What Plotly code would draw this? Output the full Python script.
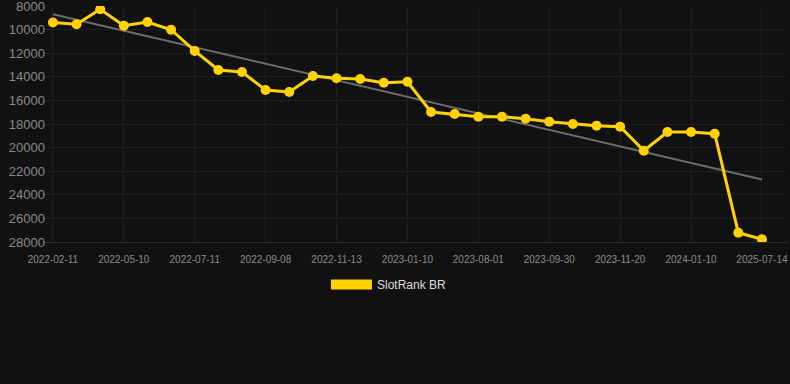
import numpy as np
import plotly.graph_objects as go

dates = [
    "2022-02-11", "2022-03-11", "2022-04-10", "2022-05-10", "2022-06-01", "2022-06-20",
    "2022-07-11", "2022-08-01", "2022-08-20", "2022-09-08", "2022-10-05", "2022-10-20",
    "2022-11-13", "2022-12-05", "2022-12-20", "2023-01-10", "2023-04-10", "2023-06-10",
    "2023-08-01", "2023-08-20", "2023-09-10", "2023-09-30", "2023-10-15", "2023-11-01",
    "2023-11-20", "2023-12-05", "2023-12-20", "2024-01-10", "2024-02-10", "2025-05-10",
    "2025-07-14",
]
ranks = [
    9400, 9550, 8280, 9670, 9360, 10010, 11810, 13420, 13590, 15120, 15290, 13930,
    14130, 14190, 14500, 14420, 16980, 17150, 17380, 17380, 17550, 17800, 18000, 18140,
    18230, 20260, 18680, 18680, 18820, 27210, 27770,
]
series_name = "SlotRank BR"
y_ticks = [8000, 10000, 12000, 14000, 16000, 18000, 20000, 22000, 24000, 26000, 28000]
y_tick_text = [str(v) for v in y_ticks]

idx = np.arange(len(ranks))
slope, intercept = np.polyfit(idx, ranks, 1)
trend = slope * idx + intercept

gold = "#FFD200"
fig = go.Figure()
fig.add_trace(go.Scatter(
    x=dates, y=trend, mode="lines", line=dict(color="#6b6b6b", width=2),
    showlegend=False, hoverinfo="skip",
))
fig.add_trace(go.Scatter(
    x=dates, y=ranks, mode="lines+markers",
    line=dict(color=gold, width=3), marker=dict(color=gold, size=10),
    showlegend=False, name=series_name,
))
fig.add_trace(go.Scatter(
    x=[None], y=[None], mode="lines", line=dict(color=gold, width=10),
    name=series_name, showlegend=True,
))

fig.update_layout(
    width=790, height=384,
    margin=dict(l=43, r=3, t=6, b=142),
    paper_bgcolor="#111111", plot_bgcolor="#111111",
    font=dict(family="Liberation Sans, Arial, sans-serif", color="#999999"),
    xaxis=dict(
        type="category", categoryorder="array", categoryarray=dates,
        tickvals=dates[::3], ticktext=dates[::3],
        range=[-0.42, 31.06], automargin=False, ticklabeloverflow="allow",
        showgrid=True, gridcolor="#1f1f1f", gridwidth=1,
        tickfont=dict(size=10, color="#8a8a8a"),
        showline=True, linecolor="#2a2a2a",
        ticks="outside", ticklen=8, tickcolor="rgba(0,0,0,0)",
        zeroline=False,
    ),
    yaxis=dict(
        range=[28000, 8000], tickvals=y_ticks, ticktext=y_tick_text,
        automargin=False, ticklabeloverflow="allow", ticklabelstandoff=-3,
        showgrid=True, gridcolor="#1f1f1f", gridwidth=1,
        tickfont=dict(size=13, color="#8a8a8a"),
        zeroline=False, ticks="",
    ),
    legend=dict(
        orientation="h", x=0.465, xanchor="center", y=-0.18, yanchor="middle",
        font=dict(size=12, color="#dddddd"), itemwidth=41,
        bgcolor="rgba(0,0,0,0)",
    ),
    showlegend=True,
)

fig.write_html(
    "out.html",
    config={"displayModeBar": False},
    post_script="document.body.style.margin='0';document.body.style.background='#111111';",
)
